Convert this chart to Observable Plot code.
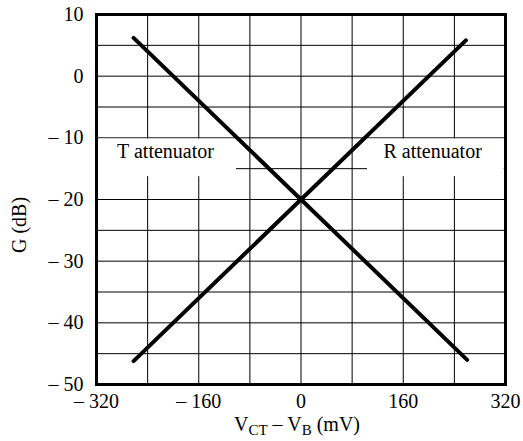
<!DOCTYPE html>
<html>
<head>
<meta charset="utf-8">
<script src="https://cdn.jsdelivr.net/npm/d3@7"></script>
<script src="https://cdn.jsdelivr.net/npm/@observablehq/plot@0.6"></script>
<style>
  html, body { margin: 0; padding: 0; background: #fff; }
  #chart svg { display: block; }
</style>
</head>
<body>
<div id="chart"></div>
<script>
// Data
const tX = [-262, 0, 260];
const tG = [6.2, -20, -46];
const rX = [-262, 0, 258];
const rG = [-46.2, -20, 5.8];
const xTicks = [-320, -160, 0, 160, 320];
const yTicks = [10, 0, -10, -20, -30, -40, -50];
const xGrid = [-240, -160, -80, 0, 80, 160, 240];
const yGrid = [5, 0, -5, -10, -15, -20, -25, -30, -35, -40, -45];
const labels = ["T attenuator", "R attenuator"];

const tData = tX.map((x, i) => ({x, g: tG[i]}));
const rData = rX.map((x, i) => ({x, g: rG[i]}));
const fmt = d => d < 0 ? "\u2013 " + Math.abs(d) : String(d);

const font = "'Liberation Serif', 'Times New Roman', serif";

const chart = Plot.plot({
  width: 523,
  height: 441,
  marginLeft: 96,
  marginRight: 18,
  marginTop: 14,
  marginBottom: 57,
  style: {fontFamily: font, fontSize: "20px", background: "#fff", color: "#000"},
  x: {domain: [-320, 320], ticks: xTicks, tickFormat: fmt, tickSize: 0, tickPadding: 9, label: null},
  y: {domain: [-50, 10], ticks: yTicks, tickFormat: fmt, tickSize: 0, tickPadding: 13, label: null},
  marks: [
    Plot.ruleX(xGrid, {stroke: "black", strokeWidth: 1}),
    Plot.ruleY(yGrid, {stroke: "black", strokeWidth: 1}),
    Plot.rect([{x1: -317, x2: -101, y1: -16.3, y2: -10.2}], {x1: "x1", x2: "x2", y1: "y1", y2: "y2", fill: "white"}),
    Plot.rect([{x1: 104, x2: 318, y1: -16.3, y2: -10.2}], {x1: "x1", x2: "x2", y1: "y1", y2: "y2", fill: "white"}),
    Plot.frame({stroke: "black", strokeWidth: 3}),
    Plot.line(tData, {x: "x", y: "g", stroke: "black", strokeWidth: 4, strokeLinecap: "round"}),
    Plot.line(rData, {x: "x", y: "g", stroke: "black", strokeWidth: 4, strokeLinecap: "round"}),
    Plot.text([labels[0]], {x: -212, y: -12.3, text: d => d, fontSize: 20, fill: "black"}),
    Plot.text([labels[1]], {x: 206, y: -12.3, text: d => d, fontSize: 20, fill: "black"})
  ]
});

document.getElementById("chart").appendChild(chart);

const svg = d3.select(chart);
// x-axis label with subscripts
const xl = svg.append("text")
  .attr("x", 297).attr("y", 431)
  .attr("text-anchor", "middle")
  .attr("font-family", font).attr("font-size", 20).attr("fill", "black");
xl.append("tspan").text("V");
xl.append("tspan").attr("font-size", 15).attr("dy", 4).text("CT");
xl.append("tspan").attr("dy", -4).text(" \u2013 V");
xl.append("tspan").attr("font-size", 15).attr("dy", 4).text("B");
xl.append("tspan").attr("dy", -4).text(" (mV)");

// y-axis label
svg.append("text")
  .attr("transform", "translate(26,225) rotate(-90)")
  .attr("text-anchor", "middle")
  .attr("font-family", font).attr("font-size", 20).attr("fill", "black")
  .text("G (dB)");
</script>
</body>
</html>
